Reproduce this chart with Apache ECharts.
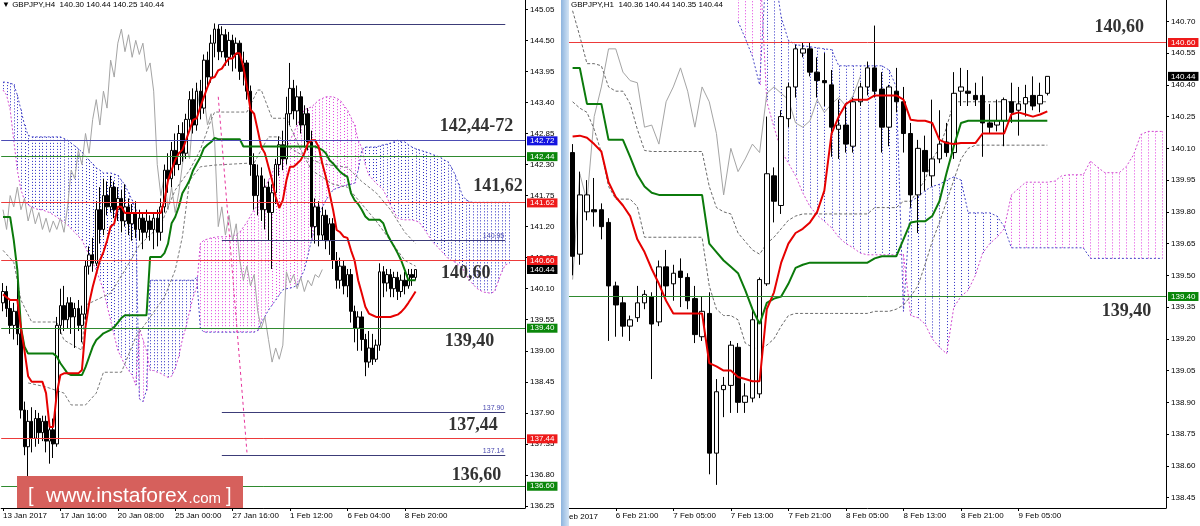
<!DOCTYPE html>
<html><head><meta charset="utf-8">
<script src="https://cdn.jsdelivr.net/npm/echarts@6/dist/echarts.min.js"></script>
<style>html,body{margin:0;padding:0;background:#fff}#c{width:1200px;height:526px}</style>
</head><body><div id="c"></div>
<script>
// ================= DATA : H4 (left panel) =================
// candles: [open, close, low, high]
const h4Candles = [
[139.85,140.05,139.70,140.20],[140.05,139.75,139.60,140.15],[139.75,139.45,139.30,139.90],[139.45,139.70,139.20,139.85],
[139.70,139.30,139.10,140.25],[139.30,137.95,137.80,139.40],[137.95,137.30,137.15,138.10],[137.30,137.75,136.75,137.95],
[137.75,137.45,137.20,138.00],[137.45,137.80,137.30,137.95],[137.80,137.55,137.35,137.90],[137.55,137.75,137.40,137.85],
[137.75,137.40,137.20,137.85],[137.40,137.60,137.00,137.75],[137.60,137.35,137.10,137.80],[137.35,139.45,137.30,139.60],
[139.45,139.80,139.30,140.10],[139.80,139.55,139.35,140.15],[139.55,139.85,139.40,139.95],[139.85,139.60,139.30,139.95],
[139.60,139.75,139.05,139.85],[139.75,139.45,139.35,139.90],[139.45,139.65,139.15,139.80],[139.65,140.50,139.55,140.60],
[140.50,140.70,140.35,140.85],[140.70,140.55,140.40,141.00],[140.55,141.50,140.50,141.65],[141.50,141.15,140.90,141.90],
[141.15,141.75,141.05,142.05],[141.75,141.55,141.40,142.00],[141.55,141.90,141.45,142.10],[141.90,141.50,141.35,142.00],
[141.50,141.70,141.30,141.90],[141.70,141.30,141.10,141.85],[141.30,141.55,141.20,141.95],[141.55,141.25,141.05,141.70],
[141.25,141.45,140.95,141.60],[141.45,141.15,141.00,141.65],[141.15,141.35,140.95,141.50],[141.35,141.10,140.80,141.45],
[141.10,141.30,141.00,141.50],[141.30,141.15,140.95,141.40],[141.15,141.35,140.80,141.45],[141.35,141.10,140.85,141.50],
[141.10,141.55,140.95,141.70],[141.55,142.20,141.45,142.30],[142.20,142.05,141.80,142.50],[142.05,142.55,141.90,142.70],
[142.55,142.30,142.10,142.85],[142.30,142.85,142.20,143.00],[142.85,142.50,142.35,143.05],[142.50,143.10,142.40,143.20],
[143.10,143.45,142.95,143.60],[143.45,143.00,142.85,143.65],[143.00,143.60,142.90,143.75],[143.60,143.30,143.10,143.80],
[143.30,144.15,143.20,144.25],[144.15,143.85,143.70,144.30],[143.85,144.45,143.75,144.60],[144.45,144.70,144.20,144.80],
[144.70,144.30,144.15,144.78],[144.30,144.60,144.20,144.75],[144.60,144.20,144.05,144.70],[144.20,144.50,144.05,144.65],
[144.50,144.25,143.95,144.60],[144.25,144.45,144.00,144.55],[144.45,143.95,143.80,144.50],[143.95,144.10,143.70,144.30],
[144.10,143.60,143.45,144.15],[143.60,142.30,142.10,143.70],[142.30,141.75,141.50,142.50],[141.75,142.10,141.40,142.30],
[142.10,141.50,141.30,142.25],[141.50,141.90,141.15,142.05],[141.90,141.45,140.95,142.00],[141.45,141.80,140.45,141.95],
[141.80,142.30,141.60,142.40],[142.30,142.65,142.10,142.80],[142.65,142.40,142.20,142.90],[142.40,143.20,142.30,143.50],
[143.20,143.65,143.00,144.10],[143.65,143.25,143.10,143.80],[143.25,143.50,143.00,143.70],[143.50,143.00,142.85,143.60],
[143.00,143.20,142.60,143.35],[143.20,142.70,142.55,143.30],[142.70,141.20,141.00,142.90],[141.20,141.55,140.90,141.70],
[141.55,141.05,140.85,141.65],[141.05,141.40,140.95,141.55],[141.40,140.95,140.80,141.50],[140.95,141.25,140.70,141.35],
[141.25,140.60,140.45,141.35],[140.60,140.25,140.10,140.75],[140.25,140.50,140.10,140.65],[140.50,140.15,140.00,140.60],
[140.15,140.35,139.95,140.45],[140.35,139.70,139.50,140.45],[139.70,139.40,139.15,139.80],[139.40,139.60,139.00,139.70],
[139.60,139.20,139.00,139.70],[139.20,138.80,138.55,139.30],[138.80,139.05,138.70,139.35],[139.05,138.85,138.75,139.30],
[138.85,139.10,138.80,139.20],[139.10,140.40,139.00,140.55],[140.40,140.20,139.95,140.50],[140.20,140.35,140.05,140.45],
[140.35,140.10,139.95,140.45],[140.10,140.30,139.95,140.40],[140.30,140.05,139.90,140.40],[140.05,140.25,139.95,140.35],
[140.25,140.15,140.00,140.40],[140.15,140.35,140.10,140.45],[140.35,140.30,140.15,140.45],[140.30,140.44,140.25,140.44]
];
const h4Tenkan = [140.0,139.95,139.9,139.9,139.9,139.4,139.0,138.55,138.45,138.45,138.45,138.45,138.25,137.65,137.65,138.25,
138.57,138.6,138.6,138.6,138.6,138.6,138.66,139.42,139.84,140.13,140.37,140.6,140.75,140.95,141.2,141.25,141.55,141.55,
141.44,141.44,141.44,141.44,141.44,141.44,141.44,141.44,141.44,141.44,141.44,141.67,142.02,142.2,142.38,142.5,142.56,
142.73,142.91,143.09,143.12,143.32,143.5,143.67,143.83,143.85,143.97,144.0,144.1,144.18,144.18,144.27,144.27,144.03,
143.67,143.27,143.2,142.91,142.61,142.5,142.26,142.02,141.73,141.53,141.67,142.02,142.26,142.26,142.32,142.38,142.5,
142.68,142.73,142.73,142.61,142.32,142.08,141.8,141.5,141.14,141.1,141.02,141.0,140.78,140.6,140.25,140.02,139.78,
139.66,139.63,139.6,139.6,139.6,139.6,139.6,139.62,139.64,139.69,139.76,139.85,139.95,140.05];
const h4Kijun = [141.37,141.37,141.37,140.96,140.43,139.42,139.07,138.95,138.95,138.95,138.95,138.95,138.95,138.95,138.95,
138.9,138.78,138.69,138.6,138.57,138.57,138.57,138.57,138.71,138.89,139.07,139.19,139.25,139.31,139.34,139.37,139.42,
139.5,139.58,139.63,139.63,139.63,139.63,139.63,139.63,139.63,140.66,140.66,140.66,140.66,140.73,140.9,141.26,141.37,
141.55,141.79,141.9,142.02,142.2,142.32,142.43,142.59,142.65,142.7,142.77,142.75,142.75,142.75,142.75,142.75,142.75,
142.75,142.62,142.62,142.62,142.62,142.62,142.62,142.62,142.62,142.62,142.62,142.62,142.62,142.62,142.62,142.62,142.62,
142.62,142.62,142.62,142.62,142.62,142.59,142.56,142.5,142.38,142.32,142.24,142.17,142.12,142.08,141.79,141.67,141.6,
141.5,141.38,141.32,141.32,141.32,141.32,141.26,141.08,140.96,140.85,140.73,140.6,140.43,140.25,140.25,140.25];
const h4SpanA = [143.76,143.76,143.74,143.72,143.53,143.27,143.0,142.82,142.79,142.79,142.79,142.79,142.79,142.79,142.79,
142.79,142.79,142.76,142.73,142.68,142.63,142.58,142.52,142.45,142.38,142.31,142.24,142.2,142.15,142.15,142.15,142.13,
142.11,142.02,141.94,141.8,141.67,141.5,
138.15,138.1,138.3,
140.25,140.25,140.25,140.25,140.25,140.25,140.25,140.25,140.25,140.25,140.25,140.25,140.25,140.3,
139.4,139.33,139.33,139.33,139.33,139.33,139.33,139.33,139.33,139.33,139.33,139.33,139.33,139.33,139.33,139.33,
139.36,139.5,139.61,139.72,139.81,139.9,139.99,140.08,140.1,140.11,140.13,140.16,140.3,140.43,140.7,140.96,141.19,
141.41,141.54,141.67,141.76,141.85,141.88,141.9,141.92,141.94,141.95,141.97,142.2,142.55,
142.61,142.61,142.61,142.61,142.63,142.65,142.66,142.68,142.7,142.73,142.7,142.7,142.65,142.61,142.58,142.56,142.54,
142.52,142.5,142.47,142.45,142.42,142.38,142.35,142.25,142.12,141.95,141.76,141.68,141.64,
141.63,141.63,141.63,141.63,141.63,141.63,141.63,141.63,141.63,141.63,141.63];
const h4SpanB = [143.62,143.53,143.27,142.73,142.2,141.85,141.67,141.58,141.55,141.52,141.5,141.5,141.47,141.45,141.41,
141.37,141.32,141.28,141.23,141.16,141.1,141.03,140.96,140.83,140.7,140.56,140.43,140.25,140.08,139.8,139.54,139.27,
139.01,138.88,138.74,138.65,138.57,138.39,
139.4,139.2,139.0,
138.65,138.65,138.62,138.6,138.56,138.53,138.55,138.69,138.9,139.2,139.42,139.7,139.95,140.13,
140.9,140.96,140.98,141.0,141.01,141.02,141.02,141.02,141.03,141.03,141.06,141.1,141.19,141.28,141.39,141.5,141.58,
141.76,141.89,142.02,142.15,142.29,142.38,142.47,142.6,142.73,142.86,143.0,143.13,143.27,143.3,143.32,143.38,143.44,
143.47,143.5,143.5,143.5,143.47,143.44,143.35,143.27,143.13,143.0,142.73,142.6,
142.29,142.11,142.04,141.97,141.91,141.85,141.72,141.58,141.46,141.35,141.33,141.32,141.32,141.32,141.3,141.28,141.19,
141.1,141.0,140.91,140.85,140.78,140.71,140.64,140.6,140.57,140.52,140.47,140.36,140.25,140.18,140.11,140.07,140.04,
140.03,140.02,140.05,140.22,140.4,140.52,140.55];
// dashed envelope lines, [bar, price]
const h4EnvUpper = [[0,140.78],[3,140.57],[5,139.9],[8,139.51],[15,139.51],[17,139.19],[22,139.01],[23,139.81],[30,140.02],
[34,140.43],[38,140.87],[44,141.23],[48,141.85],[52,142.2],[55,142.56],[58,143.09],[59,143.23],[68,143.23],[71,143.62],
[72,143.62],[75,143.12],[79,143.12],[83,142.56],[86,142.2],[92,141.95],[96,141.9],[100,141.6],[104,141.3],[108,140.95],
[112,140.6],[115,140.5]];
const h4EnvLower = [[7,138.43],[12,138.36],[17,138.25],[19,138.04],[23,138.04],[26,138.25],[28,138.62],[33,138.62],
[37,139.24],[45,139.95],[48,140.43],[50,141.02],[52,142.02],[55,142.26],[59,142.29],[70,142.33],[74,142.79],[77,142.79],
[80,142.6],[85,142.4],[90,142.3],[96,142.25],[100,142.0],[104,141.8],[108,141.5],[112,141.1],[115,140.9]];
const h4TimeBars = [0,16,32,48,64,80,96,112];
const h4TimeText = ['13 Jan 2017','17 Jan 16:00','20 Jan 08:00','25 Jan 00:00','27 Jan 16:00','1 Feb 12:00','6 Feb 04:00','8 Feb 20:00'];
const h4PriceTicks = [136.25,136.80,137.35,137.90,138.45,139.00,139.55,140.10,140.65,141.20,141.75,142.30,142.85,143.40,143.95,144.50,145.05];
const h4Levels = [142.72,142.44,141.62,140.60,139.40,137.44,136.60];
const h4LevelKind = ['blue','green','red','red','green','red','green'];
const h4SubLevels = [137.90,137.14,140.95];
const h4HighLevel = 144.78;
const h4TrendFrom = [60,143.5], h4TrendTo = [68,137.2];
const h4Notes = ['142,44-72','141,62','140,60','139,40','137,44','136,60'];

// ================= DATA : H1 (right panel) =================
const h1Candles = [
[140.08,139.59,139.50,140.12],[139.60,139.88,139.55,139.99],[139.80,139.88,139.76,139.95],[139.81,139.80,139.73,139.96],
[139.81,139.73,139.67,139.84],[139.75,139.45,139.19,139.77],[139.45,139.36,139.21,139.47],[139.37,139.26,139.21,139.40],
[139.26,139.29,139.19,139.31],[139.30,139.37,139.28,139.45],[139.37,139.41,139.34,139.43],[139.40,139.27,139.01,139.42],
[139.28,139.54,139.26,139.57],[139.54,139.45,139.40,139.62],[139.46,139.51,139.38,139.55],[139.52,139.49,139.35,139.58],
[139.49,139.38,139.34,139.51],[139.39,139.22,139.18,139.45],[139.21,139.33,139.19,139.40],[139.32,138.66,138.56,139.42],
[138.66,138.95,138.51,139.01],[138.96,138.98,138.83,139.02],[138.98,139.17,138.85,139.19],[139.16,138.90,138.85,139.18],
[138.90,138.93,138.85,138.99],[138.92,139.29,138.90,139.34],[138.94,139.48,138.92,139.49],[139.46,139.98,139.45,140.25],
[139.97,139.85,139.75,140.01],[139.83,140.25,139.79,140.28],[140.24,140.39,140.20,140.41],[140.39,140.57,140.34,140.59],
[140.55,140.57,140.53,140.60],[140.57,140.46,140.44,140.60],[140.46,140.42,140.34,140.53],[140.42,140.41,140.30,140.55],
[140.40,140.20,140.06,140.47],[140.19,140.21,140.05,140.33],[140.21,140.12,140.08,140.31],[140.11,140.32,140.08,140.34],
[140.32,140.39,140.30,140.41],[140.39,140.48,140.35,140.51],[140.48,140.37,140.34,140.68],[140.38,140.20,140.08,140.46],
[140.20,140.39,140.11,140.40],[140.37,140.32,140.27,140.48],[140.32,140.17,140.08,140.39],[140.17,139.88,139.82,140.22],
[139.88,140.10,139.70,140.14],[140.09,139.99,139.90,140.16],[139.97,140.05,139.92,140.33],[140.05,140.12,140.03,140.28],
[140.13,140.08,140.06,140.22],[140.08,140.36,140.05,140.46],[140.37,140.39,140.30,140.48],[140.37,140.36,140.30,140.47],
[140.35,140.33,140.30,140.41],[140.35,140.22,140.06,140.44],[140.22,140.20,140.17,140.31],[140.21,140.23,140.18,140.33],
[140.23,140.33,140.11,140.34],[140.32,140.27,140.22,140.41],[140.28,140.31,140.16,140.39],[140.31,140.34,140.25,140.40],
[140.35,140.30,140.28,140.44],[140.31,140.35,140.27,140.41],[140.36,140.44,140.35,140.44]
];
const h1Tenkan = [140.156,140.16,140.15,140.12,140.085,139.94,139.87,139.83,139.78,139.67,139.61,139.53,139.46,139.38,139.32,
139.32,139.32,139.32,139.32,139.085,139.07,139.05,139.05,139.02,139.01,139.00,139.00,139.34,139.42,139.56,139.65,139.70,
139.72,139.75,139.80,139.90,140.17,140.25,140.31,140.33,140.33,140.33,140.35,140.35,140.35,140.35,140.33,140.235,140.23,
140.23,140.22,140.14,140.125,140.12,140.125,140.125,140.125,140.17,140.17,140.17,140.17,140.26,140.27,140.26,140.25,
140.26,140.275];
const h1Kijun = [140.48,140.48,140.31,140.31,140.31,140.14,140.14,140.14,140.06,139.975,139.92,139.89,139.88,139.88,139.88,
139.88,139.88,139.88,139.88,139.65,139.61,139.57,139.54,139.51,139.43,139.34,139.27,139.37,139.39,139.40,139.46,139.535,
139.55,139.56,139.56,139.56,139.56,139.56,139.56,139.56,139.56,139.56,139.58,139.59,139.59,139.59,139.67,139.75,139.755,
139.755,139.78,139.85,139.985,140.11,140.22,140.23,140.23,140.23,140.23,140.23,140.23,140.23,140.23,140.23,140.23,140.23,
140.23];
const h1SpanA = [null,null,null,null,null,null,null,null,null,null,null,null,null,null,null,null,null,null,null,null,null,null,null,
140.70,140.62,140.535,140.40,141.00,140.95,140.72,140.61,140.59,140.585,140.58,140.575,140.57,140.566,140.49,140.49,140.49,
140.49,140.49,140.49,140.49,140.47,140.39,139.33,139.85,139.87,139.90,139.92,139.93,139.95,139.965,139.95,139.795,139.795,
139.795,139.795,139.78,139.73,139.63,139.63,139.63,139.63,139.63,139.63,139.63,139.63,139.63,139.63,139.63,139.58,139.58,
139.58,139.58,139.58,139.58,139.58,139.58,139.58,139.58,139.58];
const h1SpanB = [null,null,null,null,null,null,null,null,null,null,null,null,null,null,null,null,null,null,null,null,null,null,null,
141.00,141.00,141.00,141.00,140.32,140.20,140.09,140.03,139.97,139.89,139.825,139.785,139.755,139.725,139.68,139.65,139.63,
139.605,139.597,139.597,139.597,139.597,139.597,139.60,139.31,139.30,139.27,139.20,139.16,139.13,139.35,139.40,139.43,139.50,
139.605,139.65,139.68,139.72,139.88,139.91,139.94,139.94,139.94,139.94,139.945,139.97,139.975,139.975,139.975,140.04,140.01,
139.985,139.985,139.985,140.015,140.07,140.165,140.18,140.18,140.18];
const h1EnvUpper = [140.75,140.63,140.50,140.50,140.49,140.39,140.37,140.37,140.31,140.19,140.09,140.085,140.085,140.085,
140.085,140.085,140.085,140.085,140.085,139.92,139.82,139.80,139.79,139.70,139.66,139.62,139.60,139.65,139.68,139.72,139.76,
139.78,139.79,139.79,139.79,139.79,139.79,139.79,139.79,139.79,139.79,139.79,139.82,139.82,139.82,139.82,139.85,139.85,
139.90,139.95,140.05,140.10,140.20,140.32,140.32,140.32,140.32,140.32,140.32,140.32,140.32,140.32,140.32,140.32,140.32,
140.32,140.32];
const h1EnvLower = [140.32,140.29,140.27,140.19,140.08,139.92,139.86,139.86,139.86,139.825,139.68,139.68,139.68,139.68,139.68,
139.68,139.68,139.68,139.68,139.45,139.34,139.31,139.31,139.29,139.18,139.16,139.15,139.17,139.20,139.26,139.31,139.32,
139.32,139.32,139.32,139.32,139.32,139.32,139.32,139.32,139.32,139.32,139.33,139.33,139.33,139.34,139.36,139.40,139.45,
139.55,139.66,139.75,139.85,139.95,140.05,140.10,140.115,140.115,140.115,140.115,140.115,140.115,140.115,140.115,140.115,
140.115,140.115];
const h1TimeBars = [6,14,22,30,38,46,54,62];
const h1TimeText = ['6 Feb 21:00','7 Feb 05:00','7 Feb 13:00','7 Feb 21:00','8 Feb 05:00','8 Feb 13:00','8 Feb 21:00','9 Feb 05:00'];
const h1FirstDate = '6 Feb 2017';
const h1PriceTicks = [138.45,138.60,138.75,138.90,139.05,139.20,139.35,139.50,139.65,139.80,139.95,140.10,140.25,140.40,140.55,140.70];
const h1Levels = [140.60,139.40];
const h1LevelKind = ['red','green'];
const h1Notes = ['140,60','139,40'];
const symbolName = 'GBPJPY';

// ================= LAYOUT / STYLE =================
const FONT = 'Liberation Sans';
const H4_SLOTS = 146, H1_SLOTS = 83;
const SHIFT = 26;
const LEVEL_STYLE = {blue:{line:'#4c4cb4',box:'#1414e0'}, green:{line:'#2f8a2f',box:'#0b870b'}, red:{line:'#ec3a3a',box:'#ee1a1a'}};
const h4NoteAnchors = [[132,142.973],[138,141.91],[129,140.369],[130,139.164],[131,137.685],[132,136.799]];
const h1NoteAnchors = [[76,140.673],[77,139.330]];
const SUB_FROM = 61, SUB_TO = 140, HIGH_FROM = 60;

function fmtOHLC(c){ return [c[0],c[3],c[2],c[1]].map(v=>v.toFixed(2)).join(' '); }
function cats(n){ const a=[]; for(let i=0;i<n;i++) a.push(String(i)); return a; }
function labelMap(bars, texts){ const m={}; bars.forEach((b,k)=>{m[b]=texts[k];}); return m; }
const h4Map = labelMap(h4TimeBars, h4TimeText), h1Map = labelMap(h1TimeBars, h1TimeText);

function xAx(gi, n, map){
  return {type:'category', gridIndex:gi, data:cats(n), boundaryGap:true,
    axisLine:{show:true, lineStyle:{color:'#000', width:1}},
    axisTick:{show:true, alignWithLabel:true, length:3, interval:(i)=>map[i]!==undefined, lineStyle:{color:'#000'}},
    axisLabel:{show:true, interval:(i)=>map[i]!==undefined, formatter:(v,i)=>map[i]||'', align:'left', margin:4,
      fontSize:8, fontFamily:FONT, color:'#000'},
    splitLine:{show:false}, axisPointer:{show:false}};
}
function yAx(gi, min, max, ticks){
  return {type:'value', gridIndex:gi, position:'right', min:min, max:max,
    axisLine:{show:true, lineStyle:{color:'#000', width:1}},
    axisTick:{show:true, length:3, customValues:ticks, lineStyle:{color:'#000'}},
    axisLabel:{show:true, customValues:ticks, formatter:(v)=>Number(v).toFixed(2), margin:5, fontSize:8, fontFamily:FONT, color:'#000'},
    splitLine:{show:false}};
}
function cloud(gi, A, B){
  const data = A.map((a,i)=>[i, a, B[i]]);
  return {type:'custom', xAxisIndex:gi, yAxisIndex:gi, clip:true, z:1, silent:true, encode:{x:0, y:[1,2]},
    renderItem:(params, api)=>{
      const a=api.value(1), b=api.value(2);
      if (a==null||b==null||isNaN(a)||isNaN(b)) return null;
      const p1=api.coord([api.value(0), a]), p2=api.coord([api.value(0), b]);
      const x=Math.round(p1[0])+0.5;
      return {type:'line', shape:{x1:x,y1:p1[1],x2:x,y2:p2[1]},
        style:{stroke: a>=b ? '#2a2ac4' : '#e040e0', lineWidth:1, lineDash:[1,2]}};
    }, data:data};
}
// crisp horizontal level lines: items {v, color, from?, to?}
function hLines(gi, items){
  return {type:'custom', xAxisIndex:gi, yAxisIndex:gi, clip:false, z:5, silent:true,
    data: items.map((it,k)=>[0, it.v, k]), encode:{x:0, y:1},
    renderItem:(params, api)=>{
      const it = items[api.value(2)];
      const cs = params.coordSys;
      const y = Math.floor(api.coord([0, api.value(1)])[1]) + 0.5;
      const x1 = it.from==null ? cs.x : api.coord([it.from, it.v])[0];
      const x2 = it.to==null ? cs.x + cs.width : api.coord([it.to, it.v])[0];
      return {type:'line', shape:{x1:x1,y1:y,x2:x2,y2:y}, style:{stroke:it.color, lineWidth:1}};
    }};
}
function line(gi, data, color, width, type, z){
  return {type:'line', xAxisIndex:gi, yAxisIndex:gi, data:data, showSymbol:false, symbol:'none', silent:true,
    connectNulls:false, z:z, lineStyle:{color:color, width:width, type:type}};
}
function candles(gi, data, w){
  return {type:'candlestick', xAxisIndex:gi, yAxisIndex:gi, data:data, barWidth:w, z:3, silent:true,
    itemStyle:{color:'#ffffff', color0:'#000000', borderColor:'#000000', borderColor0:'#000000', borderWidth:1}};
}
function boxItem(v, bg){
  return {yAxis:v, lineStyle:{color:'rgba(0,0,0,0)', width:0},
    label:{show:true, position:'end', distance:2, formatter:v.toFixed(2), backgroundColor:bg, color:'#fff',
      padding:[1,3,0,3], fontSize:8, fontFamily:FONT}};
}
function subLabel(v, from, to){
  return [{coord:[from, v], lineStyle:{color:'rgba(0,0,0,0)', width:0},
    label:{show:true, position:'insideEndTop', distance:1, formatter:v.toFixed(2), color:'#4a4ab0', fontSize:7, fontFamily:FONT}},
    {coord:[to, v]}];
}
function notes(texts, anchors){ return texts.map((t,k)=>({name:t, coord:anchors[k]})); }
const noteLabel = {show:true, position:'inside', formatter:'{b}', fontFamily:'Liberation Serif', fontWeight:'bold', fontSize:18, color:'#333'};

const h4Close = h4Candles.map(c=>c[1]);
const h1Close = h1Candles.map(c=>c[1]);
const h4Chikou = h4Close.slice(SHIFT);
const h1Chikou = h1Close.slice(SHIFT);
const h4Bid = h4Close[h4Close.length-1];
const h1Bid = h1Close[h1Close.length-1];

const h4LineItems = h4Levels.map((v,k)=>({v:v, color:LEVEL_STYLE[h4LevelKind[k]].line}))
  .concat(h4SubLevels.map(v=>({v:v, color:'#3c3c78', from:SUB_FROM, to:SUB_TO})))
  .concat([{v:h4HighLevel, color:'#3c3c78', from:HIGH_FROM, to:SUB_TO}]);
const h1LineItems = h1Levels.map((v,k)=>({v:v, color:LEVEL_STYLE[h1LevelKind[k]].line}));

const titleStyle = {fontSize:8, fontWeight:'normal', fontFamily:FONT, color:'#000'};
const option = {
  animation:false,
  backgroundColor:'#ffffff',
  title:[
    {text:'\u25BC '+symbolName+',H4  '+fmtOHLC(h4Candles[h4Candles.length-1]), left:2, top:1, padding:0, textStyle:titleStyle},
    {text:symbolName+',H1  '+fmtOHLC(h1Candles[h1Candles.length-1]), left:571, top:1, padding:0, textStyle:titleStyle}
  ],
  grid:[{left:0, top:0, width:525, height:508}, {left:569, top:0, width:597, height:508}],
  xAxis:[xAx(0, H4_SLOTS, h4Map), xAx(1, H1_SLOTS, h1Map)],
  yAxis:[yAx(0, 136.2146, 145.2153, h4PriceTicks), yAx(1, 138.4008, 140.8008, h1PriceTicks)],
  series:[
    cloud(0, h4SpanA, h4SpanB),
    line(0, h4SpanA, '#4a4ac8', 1, [2,2], 1),
    line(0, h4SpanB, '#d04ad0', 1, [2,2], 1),
    line(0, h4Chikou, '#a4a4a4', 1, 'solid', 2),
    line(0, h4EnvUpper, '#7a7a7a', 1, [3,2], 2),
    line(0, h4EnvLower, '#7a7a7a', 1, [3,2], 2),
    candles(0, h4Candles, 3),
    line(0, h4Kijun, '#0b7a0b', 2, 'solid', 4),
    line(0, h4Tenkan, '#e60000', 2, 'solid', 4),
    hLines(0, h4LineItems),
    {type:'line', xAxisIndex:0, yAxisIndex:0, data:[], clip:false, silent:true, z:6,
      markLine:{silent:true, symbol:['none','none'], animation:false, precision:2,
        data: h4Levels.map((v,k)=>boxItem(v, LEVEL_STYLE[h4LevelKind[k]].box)).concat([boxItem(h4Bid,'#000000')]).concat([
          subLabel(h4SubLevels[0], SUB_FROM, SUB_TO),
          subLabel(h4SubLevels[1], SUB_FROM, SUB_TO),
          subLabel(h4SubLevels[2], SUB_FROM, SUB_TO),
          [{coord:h4TrendFrom, lineStyle:{color:'#e6339c', width:1, type:[3,3]}, label:{show:false}}, {coord:h4TrendTo}]
        ])},
      markPoint:{silent:true, symbol:'circle', symbolSize:1, itemStyle:{color:'rgba(0,0,0,0)'}, label:noteLabel,
        data:notes(h4Notes, h4NoteAnchors)}},
    cloud(1, h1SpanA, h1SpanB),
    line(1, h1SpanA, '#4a4ac8', 1, [2,2], 1),
    line(1, h1SpanB, '#d04ad0', 1, [2,2], 1),
    line(1, h1Chikou, '#a4a4a4', 1, 'solid', 2),
    line(1, h1EnvUpper, '#6a6a6a', 1, [3,2], 2),
    line(1, h1EnvLower, '#6a6a6a', 1, [3,2], 2),
    candles(1, h1Candles, 5),
    line(1, h1Kijun, '#0b7a0b', 2, 'solid', 4),
    line(1, h1Tenkan, '#e60000', 2, 'solid', 4),
    hLines(1, h1LineItems),
    {type:'line', xAxisIndex:1, yAxisIndex:1, data:[], clip:false, silent:true, z:6,
      markLine:{silent:true, symbol:['none','none'], animation:false, precision:2,
        data: h1Levels.map((v,k)=>boxItem(v, LEVEL_STYLE[h1LevelKind[k]].box)).concat([boxItem(h1Bid,'#000000')])},
      markPoint:{silent:true, symbol:'circle', symbolSize:1, itemStyle:{color:'rgba(0,0,0,0)'}, label:noteLabel,
        data:notes(h1Notes, h1NoteAnchors)}}
  ],
  graphic:[
    {type:'text', z:100, style:{text:h1FirstDate, x:557.5, y:517, verticalAlign:'middle', font:'8px '+FONT, fill:'#000'}},
    {type:'rect', z:101, shape:{x:540, y:510, width:22, height:16}, style:{fill:'#ffffff'}},
    {type:'rect', z:102, shape:{x:561, y:0, width:8, height:526},
      style:{fill:{type:'linear', x:0, y:0, x2:1, y2:0, colorStops:[{offset:0,color:'#8db4de'},{offset:1,color:'#d3e4f5'}]}}},
    {type:'rect', z:103, shape:{x:17, y:476, width:226, height:32}, style:{fill:'#d6605c'}},
    {type:'text', z:104, style:{text:'[', x:28, y:506, verticalAlign:'bottom', font:'20px '+FONT, fill:'#fff'}},
    {type:'text', z:104, style:{text:'www.instaforex', x:46, y:507, verticalAlign:'bottom', font:'21px '+FONT, fill:'#fff'}},
    {type:'text', z:104, style:{text:'.com', x:188.5, y:506, verticalAlign:'bottom', font:'15px '+FONT, fill:'#fff'}},
    {type:'text', z:104, style:{text:']', x:226, y:506, verticalAlign:'bottom', font:'20px '+FONT, fill:'#fff'}}
  ]
};
const chart = echarts.init(document.getElementById('c'), null, {renderer:'canvas', width:1200, height:526});
chart.setOption(option);
</script></body></html>
